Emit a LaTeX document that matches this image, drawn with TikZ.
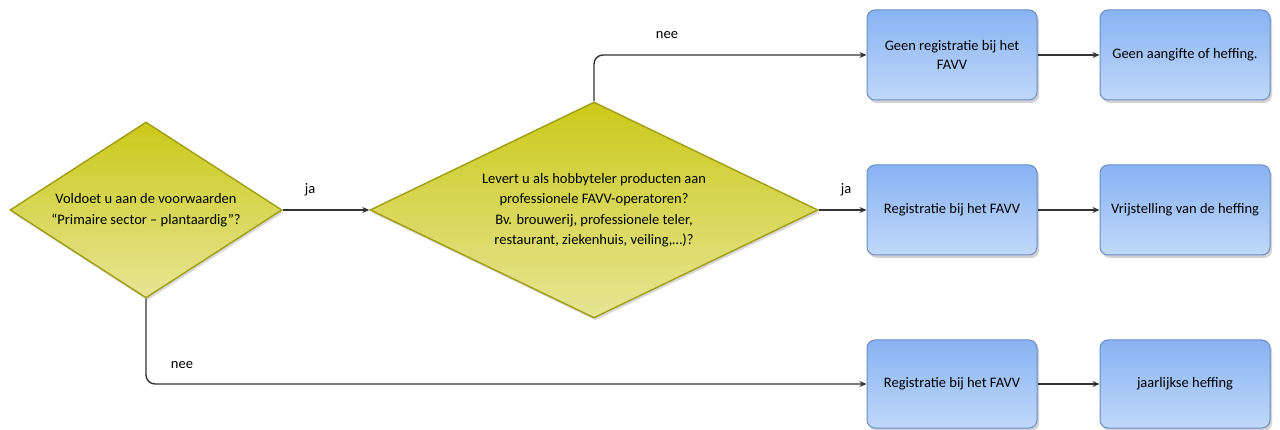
\documentclass[tikz,border=0pt]{standalone}
\usepackage{fontspec}
\setmainfont{Carlito}
\usetikzlibrary{shapes.geometric,arrows.meta,shadows}
\definecolor{dtop}{HTML}{CBC919}
\definecolor{dbot}{HTML}{E6E595}
\definecolor{dborder}{HTML}{A09E10}
\definecolor{btop}{HTML}{88B3F2}
\definecolor{bbot}{HTML}{C0D8FA}
\definecolor{bborder}{HTML}{6A8CC6}
\definecolor{lc}{HTML}{333333}
\begin{document}
\begin{tikzpicture}[x=1pt,y=-1pt,
  dec/.style={diamond, draw=dborder, line width=1.4pt, top color=dtop, bottom color=dbot,
    inner sep=0pt, aspect=2, align=center, font=\fontsize{14.5}{20.5}\selectfont,
    drop shadow={shadow xshift=1.5pt, shadow yshift=-2.5pt, opacity=0.3}},
  box/.style={rectangle, rounded corners=8pt, draw=bborder, line width=1pt,
    top color=btop, bottom color=bbot, minimum width=170pt, minimum height=90pt,
    align=center, font=\fontsize{14.5}{19}\selectfont,
    drop shadow={shadow xshift=2pt, shadow yshift=-3pt, opacity=0.35}},
  conn/.style={draw=lc, line width=1.4pt, -{Stealth[length=7pt,width=6pt]}, rounded corners=9pt},
  lbl/.style={font=\fontsize{14.5}{16}\selectfont, inner sep=1pt}]
\useasboundingbox (0,0) rectangle (1280,430);
\node[dec, minimum width=272pt, minimum height=176pt] (d1) at (146,210)
  {Voldoet u aan de voorwaarden\\“Primaire sector – plantaardig”?};
\node[dec, minimum width=448pt, minimum height=216pt] (d2) at (594,210)
  {Levert u als hobbyteler producten aan\\professionele FAVV-operatoren?\\Bv. brouwerij, professionele teler,\\restaurant, ziekenhuis, veiling,…)?};
\node[box] (b1) at (952,55) {Geen registratie bij het\\FAVV};
\node[box] (b2) at (1185,55) {Geen aangifte of heffing.};
\node[box] (b3) at (952,210) {Registratie bij het FAVV};
\node[box] (b4) at (1185,210) {Vrijstelling van de heffing};
\node[box, minimum height=88pt] (b5) at (952,384) {Registratie bij het FAVV};
\node[box, minimum height=88pt] (b6) at (1185,384) {jaarlijkse heffing};
\draw[conn] (d1.east) -- (d2.west);
\draw[conn] (d2.north) |- (b1.west);
\draw[conn] (d2.east) -- (b3.west);
\draw[conn] (d1.south) |- (b5.west);
\draw[conn] (b1.east) -- (b2.west);
\draw[conn] (b3.east) -- (b4.west);
\draw[conn] (b5.east) -- (b6.west);
\node[lbl] (ja1) at (310,190) {ja};
\node[lbl] (nee1) at (667,35) {nee};
\node[lbl] (ja2) at (846,190) {ja};
\node[lbl] (nee2) at (182,365) {nee};
\end{tikzpicture}
\end{document}
